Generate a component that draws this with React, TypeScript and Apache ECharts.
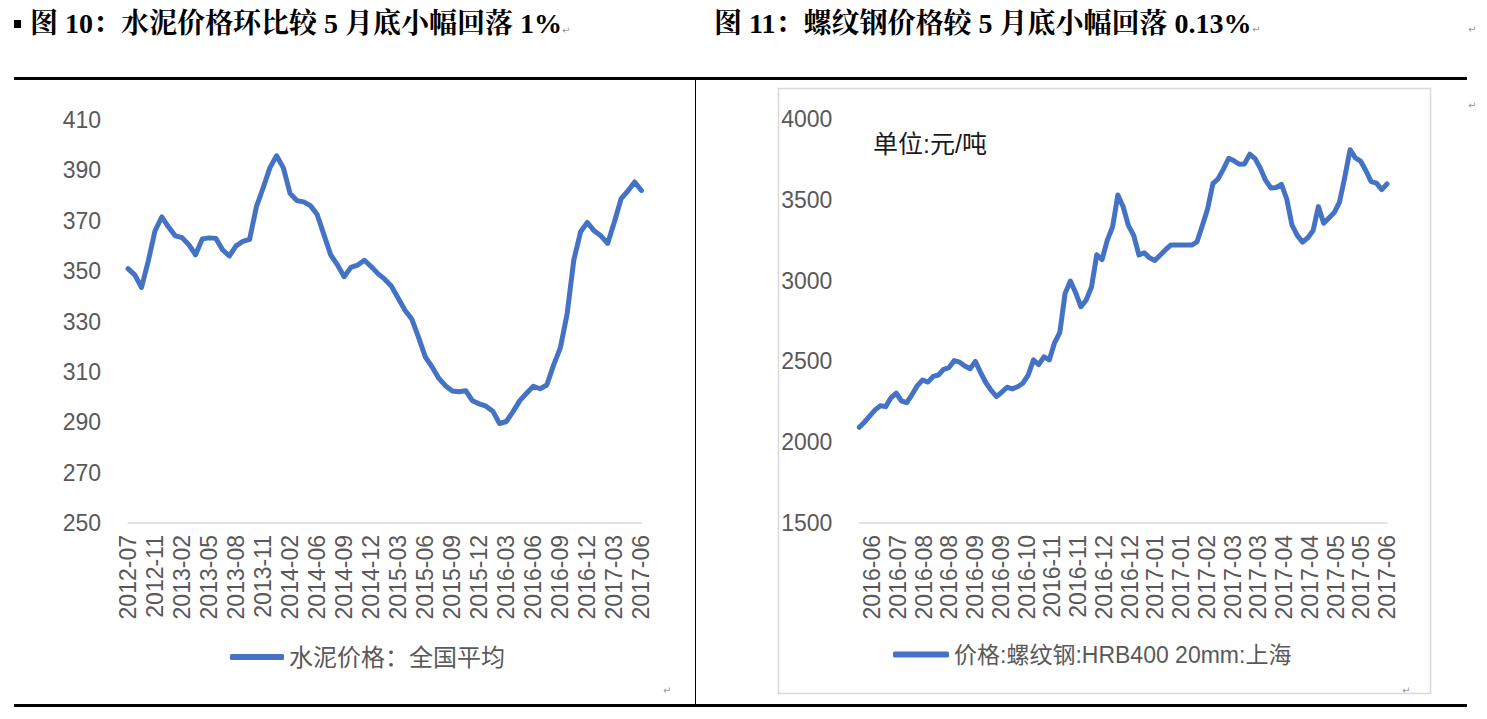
import React, { useEffect, useRef } from 'react';
import * as echarts from 'echarts';

// ---------- Data ----------
const cementTickLabels = [
  '2012-07', '2012-11', '2013-02', '2013-05', '2013-08', '2013-11', '2014-02', '2014-06',
  '2014-09', '2014-12', '2015-03', '2015-06', '2015-09', '2015-12', '2016-03', '2016-06',
  '2016-09', '2016-12', '2017-03', '2017-06',
];
const cementPointsPerTick = 4;
const cementValues = [
  351, 348.5, 343.5, 354, 366, 371.5, 367.5, 364, 363.3, 360.5,
  356.5, 362.8, 363.2, 363, 358.5, 356, 360, 361.8, 362.6, 375.5,
  383, 391, 395.8, 391, 380.8, 378, 377.5, 376, 372.5, 364.5,
  356.5, 352.5, 347.8, 351.5, 352.4, 354.3, 351.8, 349, 346.8, 344,
  339.2, 334.5, 331, 323.8, 316, 312, 307.5, 304.5, 302.4, 302.1,
  302.5, 298.5, 297.3, 296.4, 294.4, 289.5, 290.3, 294.2, 298.6, 301.5,
  304.3, 303.3, 304.8, 312.7, 319.5, 333, 354.5, 365.6, 369.3, 366,
  364, 361, 369.5, 378.8, 381.8, 385.4, 382,
];
const cementYLabels = [250, 270, 290, 310, 330, 350, 370, 390, 410];

const rebarTickLabels = [
  '2016-06', '2016-07', '2016-08', '2016-08', '2016-09', '2016-09', '2016-10', '2016-11',
  '2016-11', '2016-12', '2016-12', '2017-01', '2017-01', '2017-02', '2017-03', '2017-03',
  '2017-04', '2017-04', '2017-05', '2017-05', '2017-06',
];
// label slots on the rebar time axis: first label after a short lead-in, then every 10 slots
const rebarLabelSlots = 206;
const rebarFirstLabelSlot = 5;
const rebarSlotsPerLabel = 10;
const rebarValues = [
  2092, 2125, 2163, 2200, 2225, 2220, 2275, 2303, 2255, 2245,
  2295, 2350, 2385, 2372, 2407, 2416, 2451, 2462, 2505, 2495,
  2472, 2455, 2500, 2430, 2368, 2320, 2282, 2310, 2340, 2330,
  2343, 2365, 2415, 2509, 2480, 2528, 2509, 2615, 2680, 2921,
  2997, 2925, 2838, 2880, 2960, 3160, 3130, 3250, 3333, 3530,
  3457, 3340, 3280, 3158, 3172, 3141, 3125, 3157, 3190, 3220,
  3220, 3220, 3220, 3220, 3240, 3340, 3443, 3600, 3630, 3690,
  3757, 3741, 3720, 3722, 3782, 3755, 3695, 3620, 3573, 3576,
  3595, 3505, 3343, 3280, 3238, 3265, 3310, 3458, 3355, 3388,
  3421, 3486, 3640, 3810, 3760, 3740, 3680, 3612, 3603, 3563,
  3598,
];

const cementName = '水泥价格：全国平均';
const rebarName = '价格:螺纹钢:HRB400 20mm:上海';
const title1 = '图 10：水泥价格环比较 5 月底小幅回落 1%';
const title2 = '图 11：螺纹钢价格较 5 月底小幅回落 0.13%';
const unitText = '单位:元/吨';

const LINE_COLOR = '#4472C4';
const LABEL_COLOR = '#595959';
const SANS = '"Liberation Sans", "Noto Sans CJK SC", sans-serif';
const SERIF = '"Liberation Serif", "Noto Serif CJK SC", "Noto Sans CJK SC", serif';
const AXIS_FONT = 23;

export default function App() {
  const ref = useRef<HTMLDivElement>(null);

  useEffect(() => {
    if (!ref.current) return;
    const chart = echarts.init(ref.current, null, { renderer: 'svg' });

    const cats1 = cementValues.map((_, i) => String(i));
    const cats2 = rebarValues.map((_, i) => String(i));
    const slots2 = Array.from({ length: rebarLabelSlots }, (_, i) => 's' + i);

    const labelStyle = {
      rotate: 90,
      margin: 12,
      color: LABEL_COLOR,
      fontSize: AXIS_FONT,
      fontFamily: SANS,
    };

    const option: any = {
      animation: false,
      backgroundColor: '#ffffff',
      grid: [
        { left: 128, top: 120, width: 513.4, height: 403, containLabel: false },
        { left: 859.3, top: 119, width: 527.7, height: 404, containLabel: false },
      ],
      xAxis: [
        {
          type: 'category',
          gridIndex: 0,
          position: 'bottom',
          data: cats1,
          boundaryGap: false,
          axisTick: { show: false },
          axisLine: { show: true, lineStyle: { color: '#d9d9d9', width: 1.5 } },
          splitLine: { show: false },
          axisLabel: {
            ...labelStyle,
            interval: cementPointsPerTick - 1,
            formatter: (_v: string, idx: number) =>
              idx % cementPointsPerTick === 0 ? cementTickLabels[idx / cementPointsPerTick] : '',
          },
        },
        {
          type: 'category',
          gridIndex: 1,
          position: 'bottom',
          data: cats2,
          boundaryGap: false,
          axisTick: { show: false },
          axisLine: { show: true, lineStyle: { color: '#d9d9d9', width: 1.5 } },
          splitLine: { show: false },
          axisLabel: { show: false },
        },
        {
          type: 'category',
          gridIndex: 1,
          position: 'bottom',
          data: slots2,
          boundaryGap: false,
          axisTick: { show: false },
          axisLine: { show: false },
          splitLine: { show: false },
          axisLabel: {
            ...labelStyle,
            interval: (idx: number) =>
              idx >= rebarFirstLabelSlot && (idx - rebarFirstLabelSlot) % rebarSlotsPerLabel === 0,
            formatter: (_v: string, idx: number) => {
              const j = (idx - rebarFirstLabelSlot) / rebarSlotsPerLabel;
              return Number.isInteger(j) && j >= 0 ? rebarTickLabels[j] : '';
            },
          },
        },
      ],
      yAxis: [
        {
          type: 'value',
          gridIndex: 0,
          min: 250,
          max: 410,
          axisLine: { show: false },
          axisTick: { show: false },
          splitLine: { show: false },
          axisLabel: {
            customValues: cementYLabels,
            margin: 27,
            color: LABEL_COLOR,
            fontSize: AXIS_FONT,
            fontFamily: SANS,
          },
        },
        {
          type: 'value',
          gridIndex: 1,
          min: 1500,
          max: 4000,
          interval: 500,
          axisLine: { show: false },
          axisTick: { show: false },
          splitLine: { show: false },
          axisLabel: {
            margin: 27,
            color: LABEL_COLOR,
            fontSize: AXIS_FONT,
            fontFamily: SANS,
            formatter: (v: number) => String(v),
          },
        },
      ],
      legend: [
        {
          data: [cementName],
          left: 230,
          top: 645,
          padding: 0,
          icon: 'roundRect',
          itemWidth: 54,
          itemHeight: 6,
          itemGap: 5,
          textStyle: { fontSize: 24, color: LABEL_COLOR, fontFamily: SANS },
        },
        {
          data: [rebarName],
          left: 893,
          top: 643,
          padding: 0,
          icon: 'roundRect',
          itemWidth: 56,
          itemHeight: 6,
          itemGap: 5,
          textStyle: { fontSize: 23, color: LABEL_COLOR, fontFamily: SANS },
        },
      ],
      series: [
        {
          name: cementName,
          type: 'line',
          xAxisIndex: 0,
          yAxisIndex: 0,
          data: cementValues,
          symbol: 'none',
          showSymbol: false,
          itemStyle: { color: LINE_COLOR },
          lineStyle: { color: LINE_COLOR, width: 5, cap: 'round', join: 'round' },
        },
        {
          name: rebarName,
          type: 'line',
          xAxisIndex: 1,
          yAxisIndex: 1,
          data: rebarValues,
          symbol: 'none',
          showSymbol: false,
          itemStyle: { color: LINE_COLOR },
          lineStyle: { color: LINE_COLOR, width: 5, cap: 'round', join: 'round' },
        },
      ],
      graphic: [
        // title square bullet
        { type: 'rect', shape: { x: 14, y: 20, width: 7, height: 8 }, style: { fill: '#000' } },
        {
          type: 'text',
          left: 30,
          top: 9,
          style: { text: title1, font: `bold 28px ${SERIF}`, fill: '#000' },
        },
        {
          type: 'text',
          left: 714,
          top: 9,
          style: { text: title2, font: `bold 28px ${SERIF}`, fill: '#000' },
        },
        // top & bottom thick rules
        { type: 'rect', shape: { x: 14, y: 77, width: 1453, height: 3 }, style: { fill: '#000' } },
        { type: 'rect', shape: { x: 14, y: 704, width: 1453, height: 3 }, style: { fill: '#000' } },
        // vertical separator
        { type: 'line', shape: { x1: 695.5, y1: 80, x2: 695.5, y2: 704 }, style: { stroke: '#000', lineWidth: 1 } },
        // right chart frame
        {
          type: 'rect',
          shape: { x: 778.5, y: 88.5, width: 652, height: 605 },
          style: { fill: 'none', stroke: '#d9d9d9', lineWidth: 1.5 },
        },
        // unit text
        {
          type: 'text',
          left: 873,
          top: 131,
          style: { text: unitText, font: `25px ${SANS}`, fill: '#1a1a1a' },
        },
        // paragraph marks
        { type: 'text', left: 562, top: 25, style: { text: '↵', font: '10px "DejaVu Sans"', fill: '#999' } },
        { type: 'text', left: 1252, top: 24, style: { text: '↵', font: '10px "DejaVu Sans"', fill: '#999' } },
        { type: 'text', left: 1468, top: 24, style: { text: '↵', font: '10px "DejaVu Sans"', fill: '#999' } },
        { type: 'text', left: 1468, top: 100, style: { text: '↵', font: '10px "DejaVu Sans"', fill: '#999' } },
        { type: 'text', left: 663, top: 685, style: { text: '↵', font: '10px "DejaVu Sans"', fill: '#999' } },
        { type: 'text', left: 1402, top: 685, style: { text: '↵', font: '10px "DejaVu Sans"', fill: '#999' } },
      ],
    };

    chart.setOption(option);
    return () => chart.dispose();
  }, []);

  return (
    <div
      ref={ref}
      style={{ position: 'fixed', left: 0, top: 0, width: 1487, height: 719, background: '#fff' }}
    />
  );
}
